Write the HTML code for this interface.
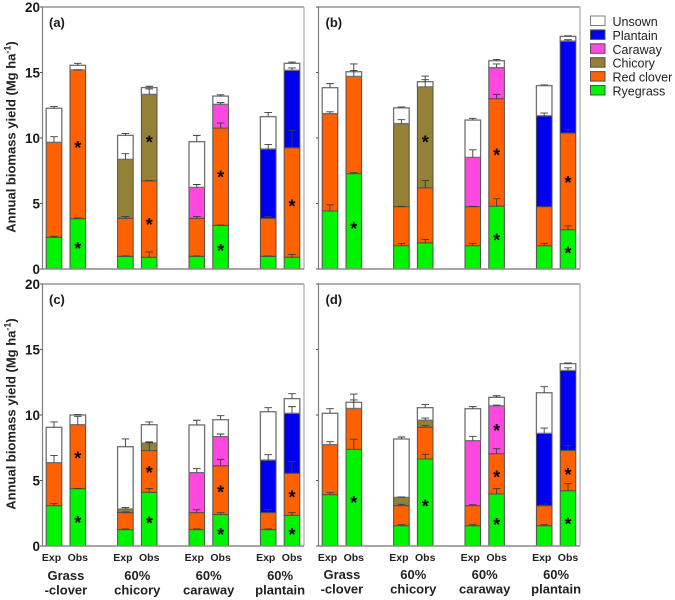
<!DOCTYPE html>
<html lang="en">
<head>
<meta charset="utf-8">
<title>Annual biomass yield</title>
<style>
html,body{margin:0;padding:0;background:#fff;width:675px;height:600px;overflow:hidden}
svg{display:block;filter:blur(0.3px)}
text{font-family:"Liberation Sans",sans-serif;fill:#1a1a1a}
.tick{font-size:13.5px;font-weight:bold}
.ytitle{font-size:13px;font-weight:bold;fill:#222;stroke:none}
.xsub{font-size:10.5px;font-weight:bold;fill:#222}
.group{font-size:13px;font-weight:bold;fill:#222}
.plabel{font-size:13px;font-weight:bold}
.leg{font-size:12.5px;fill:#222}
.star{font-size:18px;font-weight:bold;fill:#000}
</style>
</head>
<body>
<svg id="chart" width="675" height="600" viewBox="0 0 675 600" xmlns="http://www.w3.org/2000/svg"></svg>
<script>
// Categories
const seriesNames = ['Ryegrass', 'Red clover', 'Chicory', 'Caraway', 'Plantain', 'Unsown'];
const legendOrder = ['Unsown', 'Plantain', 'Caraway', 'Chicory', 'Red clover', 'Ryegrass'];
const barLabels = ['Exp', 'Obs', 'Exp', 'Obs', 'Exp', 'Obs', 'Exp', 'Obs'];
const barSlots = [0, 1, 3, 4, 6, 7, 9, 10];
const groupLines = [['Grass', '-clover'], ['60%', 'chicory'], ['60%', 'caraway'], ['60%', 'plantain']];
const yTicks = [0, 5, 10, 15, 20];
const panelNames = ['a', 'b', 'c', 'd'];

// Panel (a): cumulative top of each stack segment, per bar
const aRyegrass = [2.42, 3.84, 0.97, 0.9, 0.97, 3.33, 0.97, 0.9];
const aClover = [9.67, 15.2, 3.87, 6.72, 3.87, 10.76, 3.87, 9.26];
const aChicory = [null, null, 8.37, 13.33, null, null, null, null];
const aCaraway = [null, null, null, null, 6.23, 12.57, null, null];
const aPlantain = [null, null, null, null, null, null, 9.16, 15.17];
const aUnsown = [12.27, 15.55, 10.2, 13.85, 9.72, 13.2, 11.63, 15.7];
// Panel (a): error-bar cap values
const aErrRyegrass = [2.5, 3.9, 1.0, 1.3, 1.0, 3.35, 1.0, 1.1];
const aErrClover = [10.1, 15.2, 4.0, 6.75, 4.0, 11.15, 4.0, 10.6];
const aErrChicory = [null, null, 8.8, 13.75, null, null, null, null];
const aErrCaraway = [null, null, null, null, 6.45, 12.7, null, null];
const aErrPlantain = [null, null, null, null, null, null, 9.5, 15.35];
const aErrUnsown = [12.4, 15.7, 10.35, 13.95, 10.2, 13.3, 11.95, 15.8];
// Panel (a): significance stars (bar index, value)
const aStarBars = [1, 1, 3, 3, 5, 5, 7];
const aStarValues = [1.75, 9.45, 3.6, 9.9, 1.6, 7.2, 5.0];

// Panel (b)
const bRyegrass = [4.43, 7.28, 1.78, 2.0, 1.78, 4.8, 1.78, 3.0];
const bClover = [11.86, 14.7, 4.76, 6.2, 4.76, 13.0, 4.76, 10.38];
const bChicory = [null, null, 11.1, 13.9, null, null, null, null];
const bCaraway = [null, null, null, null, 8.52, 15.37, null, null];
const bPlantain = [null, null, null, null, null, null, 11.7, 17.4];
const bUnsown = [13.84, 15.06, 12.3, 14.3, 11.37, 15.9, 14.0, 17.76];
const bErrRyegrass = [4.9, 7.35, 1.95, 2.25, 1.95, 5.37, 1.95, 3.3];
const bErrClover = [12.0, 15.15, 4.78, 6.75, 4.78, 13.33, 4.78, 10.66];
const bErrChicory = [null, null, 11.4, 14.45, null, null, null, null];
const bErrCaraway = [null, null, null, null, 9.1, 15.65, null, null];
const bErrPlantain = [null, null, null, null, null, null, 11.9, 17.5];
const bErrUnsown = [14.15, 15.65, 12.37, 14.73, 11.5, 16.0, 14.05, 17.8];
const bStarBars = [1, 3, 5, 5, 7, 7];
const bStarValues = [3.3, 9.9, 2.4, 8.9, 1.4, 6.8];

// Panel (c)
const cRyegrass = [3.08, 4.38, 1.25, 4.1, 1.25, 2.4, 1.25, 2.34];
const cClover = [6.36, 9.26, 2.55, 7.28, 2.55, 6.13, 2.55, 5.55];
const cChicory = [null, null, 2.82, 7.86, null, null, null, null];
const cCaraway = [null, null, null, null, 5.6, 8.35, null, null];
const cPlantain = [null, null, null, null, null, null, 6.56, 10.13];
const cUnsown = [9.06, 10.0, 7.58, 9.26, 9.24, 9.64, 10.25, 11.25];
const cErrRyegrass = [3.23, 4.38, 1.3, 4.38, 1.3, 2.54, 1.3, 2.54];
const cErrClover = [6.9, 9.9, 2.6, 7.9, 2.77, 6.6, 2.77, 6.44];
const cErrChicory = [null, null, 2.93, 7.95, null, null, null, null];
const cErrCaraway = [null, null, null, null, 5.9, 8.55, null, null];
const cErrPlantain = [null, null, null, null, null, null, 6.97, 10.64];
const cErrUnsown = [9.47, 10.03, 8.17, 9.47, 9.6, 9.95, 10.56, 11.63];
const cStarBars = [1, 1, 3, 3, 5, 5, 7, 7];
const cStarValues = [2.0, 6.9, 1.95, 5.8, 1.07, 4.3, 1.07, 3.95];

// Panel (d)
const dRyegrass = [3.92, 7.38, 1.55, 6.64, 1.55, 3.97, 1.55, 4.22];
const dClover = [7.74, 10.5, 3.08, 9.06, 3.08, 7.05, 3.08, 7.3];
const dChicory = [null, null, 3.71, 9.6, null, null, null, null];
const dCaraway = [null, null, null, null, 8.04, 10.7, null, null];
const dPlantain = [null, null, null, null, null, null, 8.6, 13.4];
const dUnsown = [10.13, 10.97, 8.17, 10.56, 10.48, 11.35, 11.7, 13.92];
const dErrRyegrass = [4.07, 8.15, 1.63, 7.0, 1.63, 4.38, 1.63, 4.76];
const dErrClover = [7.96, 11.15, 3.18, 9.2, 3.15, 7.43, 3.13, 7.68];
const dErrChicory = [null, null, 3.74, 9.77, null, null, null, null];
const dErrCaraway = [null, null, null, null, 8.37, 10.76, null, null];
const dErrPlantain = [null, null, null, null, null, null, 9.0, 13.6];
const dErrUnsown = [10.48, 11.6, 8.32, 10.8, 10.64, 11.47, 12.16, 13.97];
const dStarBars = [1, 3, 5, 5, 5, 7, 7];
const dStarValues = [3.5, 3.25, 1.83, 5.45, 9.0, 1.88, 5.65];

const colorRyegrass = '#00f400';
const colorClover = '#ff6000';
const colorChicory = '#948036';
const colorCaraway = '#ff48e0';
const colorPlantain = '#0000f0';
const colorUnsown = '#ffffff';
const seriesColors = [colorRyegrass, colorClover, colorChicory, colorCaraway, colorPlantain, colorUnsown];
const legendColors = [colorUnsown, colorPlantain, colorCaraway, colorChicory, colorClover, colorRyegrass];

const panelTops = [
  [aRyegrass, aClover, aChicory, aCaraway, aPlantain, aUnsown],
  [bRyegrass, bClover, bChicory, bCaraway, bPlantain, bUnsown],
  [cRyegrass, cClover, cChicory, cCaraway, cPlantain, cUnsown],
  [dRyegrass, dClover, dChicory, dCaraway, dPlantain, dUnsown]
];
const panelErrs = [
  [aErrRyegrass, aErrClover, aErrChicory, aErrCaraway, aErrPlantain, aErrUnsown],
  [bErrRyegrass, bErrClover, bErrChicory, bErrCaraway, bErrPlantain, bErrUnsown],
  [cErrRyegrass, cErrClover, cErrChicory, cErrCaraway, cErrPlantain, cErrUnsown],
  [dErrRyegrass, dErrClover, dErrChicory, dErrCaraway, dErrPlantain, dErrUnsown]
];
const panelStarBars = [aStarBars, bStarBars, cStarBars, dStarBars];
const panelStarValues = [aStarValues, bStarValues, cStarValues, dStarValues];

const svg = document.getElementById('chart');
const NS = 'http://www.w3.org/2000/svg';
function make(tag, attrs, parent, txt) {
  const el = document.createElementNS(NS, tag);
  for (const k in attrs) el.setAttribute(k, attrs[k]);
  if (txt !== undefined) el.textContent = txt;
  (parent || svg).appendChild(el);
  return el;
}
const PW = 261.5, PH = 262, UNIT = 13.1, BAR_W = 15.6, STEP = 23.8;
function panelLeft(i) { return i % 2 === 0 ? 42.5 : 318.5; }
function panelBottom(i) { return i < 2 ? 269 : 546; }
function xScale(i, slot) { return panelLeft(i) + 11.5 + STEP * slot; }
function yScale(i, v) { return panelBottom(i) - v * UNIT; }

panelNames.forEach(function (pname, i) {
  const L = panelLeft(i), B = panelBottom(i), T = B - PH;
  const g = make('g', {}, svg);
  
  

  const tops = panelTops[i], errs = panelErrs[i];
  // stacked bars
  barSlots.forEach(function (slot, b) {
    const cx = xScale(i, slot);
    let prev = 0;
    seriesNames.forEach(function (name, s) {
      const top = tops[s][b];
      if (top === null) return;
      const y1 = yScale(i, top), y0 = yScale(i, prev);
      const r = make('rect', {
        x: cx - BAR_W / 2, y: y1, width: BAR_W, height: Math.max(y0 - y1, 0),
        fill: seriesColors[s], stroke: s === 5 ? '#707070' : '#505050', 'stroke-width': s === 5 ? 1.3 : 1
      }, g);
      
      
      prev = top;
    });
  });
  // error bars
  barSlots.forEach(function (slot, b) {
    const cx = xScale(i, slot);
    seriesNames.forEach(function (name, s) {
      const top = tops[s][b], err = errs[s][b];
      if (top === null || err === null) return;
      const ey = yScale(i, err), ty = yScale(i, top);
      const p = make('path', {
        d: 'M' + (cx - 3.8) + ' ' + ey + 'H' + (cx + 3.8) + 'M' + cx + ' ' + ey + 'V' + ty,
        fill: 'none', stroke: '#3a3a3a', 'stroke-width': 0.9
      }, g);
      
      
    });
  });
  // stars
  panelStarBars[i].forEach(function (b, k) {
    const t = make('text', {
      x: xScale(i, barSlots[b]), y: yScale(i, panelStarValues[i][k]) + 9,
      'text-anchor': 'middle', class: 'star'
    }, g, '*');
    
    
  });
  // frame
  const frame = make('path', {
    d: 'M' + L + ' ' + B + 'V' + T + 'H' + (L + PW),
    fill: 'none', stroke: '#808080', 'stroke-width': 1.2
  }, g);
  
  
  const frameR = make('path', {
    d: 'M' + (L + PW) + ' ' + T + 'V' + B,
    fill: 'none', stroke: '#b4b4b4', 'stroke-width': 1.4
  }, g);
  
  
  const baseLine = make('path', {
    d: 'M' + L + ' ' + B + 'H' + (L + PW),
    fill: 'none', stroke: '#8a8a8a', 'stroke-width': 1.4
  }, g);
  
  

  // y ticks
  yTicks.forEach(function (v) {
    const y = yScale(i, v);
    const tk = make('line', { x1: L - 2.5, x2: L, y1: y, y2: y, stroke: '#555', 'stroke-width': 1 }, g);
    
    
    if (i % 2 === 0) {
      const lb = make('text', { x: L - 2.5, y: y + 5, 'text-anchor': 'end', class: 'tick' }, g, String(v));
      
      
    }
  });

  // panel label
  const pl = make('text', { x: L + (i % 2 === 0 ? 6.5 : 7), y: T + 20, class: 'plabel' }, g, '(' + pname + ')');
  
  

  // y title
  if (i % 2 === 0) {
    const cy = B - 132;
    const yt = make('text', {
      x: 15.5, y: cy, 'text-anchor': 'middle', class: 'ytitle',
      transform: 'rotate(-90 15.5 ' + cy + ')'
    }, g);
    
    
    make('tspan', {}, yt, 'Annual biomass yield (Mg ha');
    make('tspan', { dy: -5, 'font-size': '9px' }, yt, '-1');
    make('tspan', { dy: 5 }, yt, ')');
  }

  // x labels on the lower row
  if (i >= 2) {
    barSlots.forEach(function (slot, b) {
      const offs = b % 2 === 0 ? -2.5 : 0;
      const t = make('text', { x: xScale(i, slot) + offs, y: 561, 'text-anchor': 'middle', class: 'xsub' }, g, barLabels[b]);
      
      
    });
    groupLines.forEach(function (lines, gi) {
      const cx = (xScale(i, barSlots[gi * 2]) + xScale(i, barSlots[gi * 2 + 1])) / 2;
      const base = i === 2 ? 580 : 579;
      lines.forEach(function (line, li) {
        const t = make('text', { x: cx, y: base + li * 14.5, 'text-anchor': 'middle', class: 'group' }, g, line);
        
        
      });
    });
  }
});

// legend
const legend = make('g', {}, svg);


legendOrder.forEach(function (name, k) {
  const y = 16 + k * 13.9;
  const sw = make('rect', {
    x: 590.5, y: y, width: 14.5, height: 9.5, fill: legendColors[k],
    stroke: k === 0 ? '#808080' : '#505050', 'stroke-width': 1
  }, legend);
  
  
  const t = make('text', { x: 612.5, y: y + 10, class: 'leg' }, legend, name);
  
  
});
</script>
</body>
</html>
